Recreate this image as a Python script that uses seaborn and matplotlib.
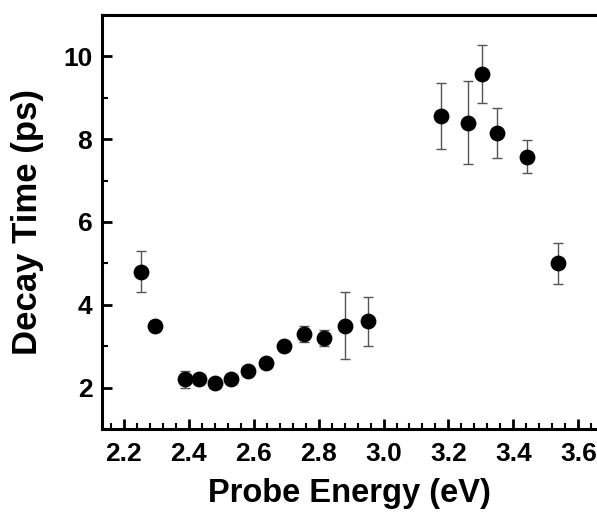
import matplotlib
matplotlib.use("Agg")
import matplotlib.pyplot as plt
import seaborn as sns
import pandas as pd
from matplotlib.ticker import MultipleLocator, AutoMinorLocator

energy = [2.255, 2.297, 2.388, 2.432, 2.48, 2.532, 2.584, 2.638, 2.694, 2.755,
          2.818, 2.883, 2.953, 3.177, 3.26, 3.304, 3.35, 3.442, 3.537]
decay = [4.8, 3.5, 2.2, 2.2, 2.1, 2.2, 2.4, 2.6, 3.0, 3.3,
         3.2, 3.5, 3.6, 8.55, 8.4, 9.56, 8.14, 7.57, 5.0]
error = [0.5, 0.1, 0.2, 0.1, 0.1, 0.1, 0.1, 0.1, 0.1, 0.2,
         0.2, 0.8, 0.6, 0.8, 1.0, 0.7, 0.6, 0.4, 0.5]

df = pd.DataFrame({"Probe Energy (eV)": energy, "Decay Time (ps)": decay, "err": error})

sns.set_style("white")
plt.rcParams["font.family"] = ["Liberation Sans", "DejaVu Sans"]
plt.rcParams["font.weight"] = "bold"
plt.rcParams["text.color"] = "black"
plt.rcParams["axes.labelcolor"] = "black"
plt.rcParams["xtick.color"] = "black"
plt.rcParams["ytick.color"] = "black"

fig = plt.figure(figsize=(5.97, 5.12), dpi=100)
ax = fig.add_axes([0.171, 0.162, 0.829, 0.809])

ax.errorbar(df["Probe Energy (eV)"], df["Decay Time (ps)"], yerr=df["err"],
            fmt="none", ecolor="#555555", elinewidth=1.0, capsize=3.5, capthick=1.0, zorder=2)
sns.scatterplot(data=df, x="Probe Energy (eV)", y="Decay Time (ps)", ax=ax,
                color="black", s=130, edgecolor="black", linewidth=0, zorder=3)

ax.set_xlim(2.134, 3.657)
ax.set_ylim(1, 11)
ax.xaxis.set_major_locator(MultipleLocator(0.2))
ax.xaxis.set_minor_locator(AutoMinorLocator(5))
ax.yaxis.set_major_locator(MultipleLocator(2))
ax.yaxis.set_minor_locator(AutoMinorLocator(2))

for s in ["left", "bottom", "top"]:
    ax.spines[s].set_linewidth(2.2)
    ax.spines[s].set_color("black")
ax.spines["right"].set_visible(False)

ax.tick_params(axis="both", which="major", direction="in", length=7, width=2,
               labelsize=19, colors="black")
ax.tick_params(axis="x", which="major", pad=9)
ax.tick_params(axis="y", which="major", pad=7)
ax.tick_params(axis="both", which="minor", direction="in", length=4, width=1.5, colors="black")
ax.tick_params(top=False, right=False, which="both")
ax.tick_params(bottom=True, left=True, which="both")
for lab in ax.get_xticklabels() + ax.get_yticklabels():
    lab.set_fontweight("bold")

ax.set_xlabel("Probe Energy (eV)", fontsize=23.5, fontweight="bold", labelpad=9, color="black")
ax.set_ylabel("Decay Time (ps)", fontsize=25, fontweight="bold", labelpad=14, color="black")

fig.savefig("out.png", dpi=100)
